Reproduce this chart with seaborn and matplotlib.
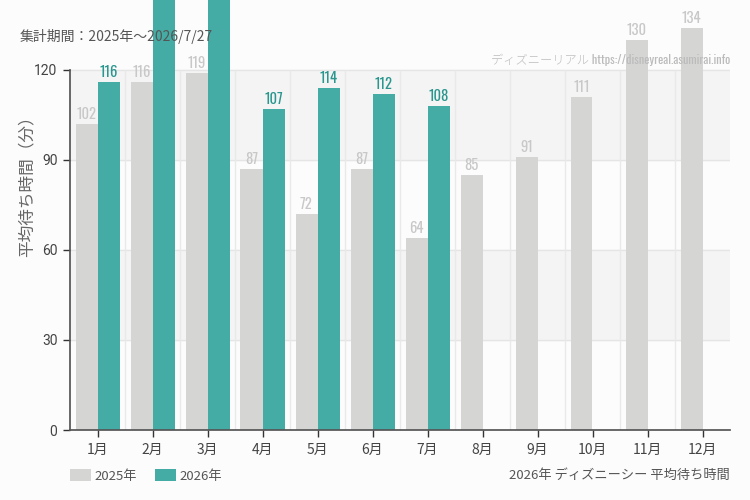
import matplotlib
matplotlib.use("Agg")
import matplotlib.pyplot as plt
import seaborn as sns
import pandas as pd
import numpy as np
from matplotlib.patches import Patch
from matplotlib import font_manager as fm

months = ["1月", "2月", "3月", "4月", "5月", "6月", "7月", "8月", "9月", "10月", "11月", "12月"]
vals_2025 = [102, 116, 119, 87, 72, 87, 64, 85, 91, 111, 130, 134]
vals_2026 = [116, 150, 155, 107, 114, 112, 108, None, None, None, None, None]
years = ["2025年", "2026年"]
title_text = "集計期間：2025年～2026/7/27"
watermark = "ディズニーリアル https://disneyreal.asumirai.info"
footer = "2026年 ディズニーシー 平均待ち時間"
ylabel = "平均待ち時間（分）"

sns.set_theme(style="white")
plt.rcParams['font.family'] = ['Noto Sans CJK JP', 'DejaVu Sans']

names = {f.name for f in fm.fontManager.ttflist}
narrow = 'Oswald' if 'Oswald' in names else 'Barlow Condensed'

bg = "#fbfcfb"
c25 = "#d5d6d4"
c26 = "#45aca5"

rows = []
for m, a, b in zip(months, vals_2025, vals_2026):
    rows.append({"month": m, "year": years[0], "value": a})
    rows.append({"month": m, "year": years[1], "value": np.nan if b is None else b})
df = pd.DataFrame(rows)

YMAX = 143.3
fig = plt.figure(figsize=(7.5, 5), dpi=100, facecolor=bg)
ax = fig.add_axes([70/750, 70/500, 660/750, 430/500])
ax.set_facecolor(bg)
ax.patch.set_alpha(0)

# bands
ax.axhspan(90, 120, color="#f3f4f3", zorder=0)
ax.axhspan(30, 60, color="#f3f4f3", zorder=0)
for y in [30, 60, 90, 120]:
    ax.axhline(y, color="#e4e5e4", lw=1, zorder=0.5)
for k in range(11):
    ax.plot([k + 0.5, k + 0.5], [0, 120], color="#e8e9e8", lw=1, zorder=0.5)

sns.barplot(data=df, x="month", y="value", hue="year", order=months, hue_order=years,
            palette=[c25, c26], width=0.8, ax=ax, saturation=1, legend=False, zorder=2,
            linewidth=0, edgecolor="none")

ax.set_xlim(-0.5, 11.5)
ax.set_ylim(0, YMAX)
ax.set_yticks([0, 30, 60, 90, 120])
ax.set_yticklabels(["0", "30", "60", "90", "120"], fontsize=10, color="#444444",
                   family=['Roboto', 'DejaVu Sans'])
ax.set_xticks(range(12))
ax.set_xticklabels(months, fontsize=10, color="#444444")
ax.tick_params(axis='both', which='major', length=5, width=1, color="#333333", direction='out',
               bottom=True, left=True, pad=4)
ax.set_xlabel("")
ax.set_ylabel(ylabel, fontsize=12, color="#666666")
ax.yaxis.set_label_coords(-0.052, (430 - 182) / 430)
for s in ["top", "right"]:
    ax.spines[s].set_visible(False)
ax.spines["left"].set_bounds(0, 120)
ax.spines["left"].set_color("#555555")
ax.spines["bottom"].set_color("#555555")

# value labels (only those inside the visible figure)
for i, (a, b) in enumerate(zip(vals_2025, vals_2026)):
    if a + 6 < YMAX:
        ax.text(i - 0.2, a + 0.8, str(a), ha="center", va="bottom", fontsize=10.5,
                color="#c8c8c8", family=narrow, fontweight='light', zorder=3)
    if b is not None and b + 6 < YMAX:
        ax.text(i + 0.2, b + 0.8, str(b), ha="center", va="bottom", fontsize=10.5,
                color="#2a968e", family=narrow, fontweight='semibold', zorder=3)

fig.text(20/750, 1 - 37/500, title_text, fontsize=10, color="#555555", va="center", ha="left")
fig.text(730/750, 1 - 60/500, watermark, fontsize=8.8, color="#bbbbbb", va="center", ha="right",
         family=[narrow, 'Noto Sans CJK JP'], fontweight='light')
fig.text(730/750, 1 - 475/500, footer, fontsize=9.5, color="#555555", va="center", ha="right")

handles = [Patch(facecolor=c25, edgecolor='none'), Patch(facecolor=c26, edgecolor='none')]
fig.legend(handles, years, loc="center left", bbox_to_anchor=(58/750, 1 - 476/500), ncol=2,
           frameon=False, fontsize=9.5, handlelength=1.6, handleheight=1.0, columnspacing=1.3,
           handletextpad=0.3, labelcolor="#555555")

fig.savefig("out.png", dpi=100, facecolor=bg)
